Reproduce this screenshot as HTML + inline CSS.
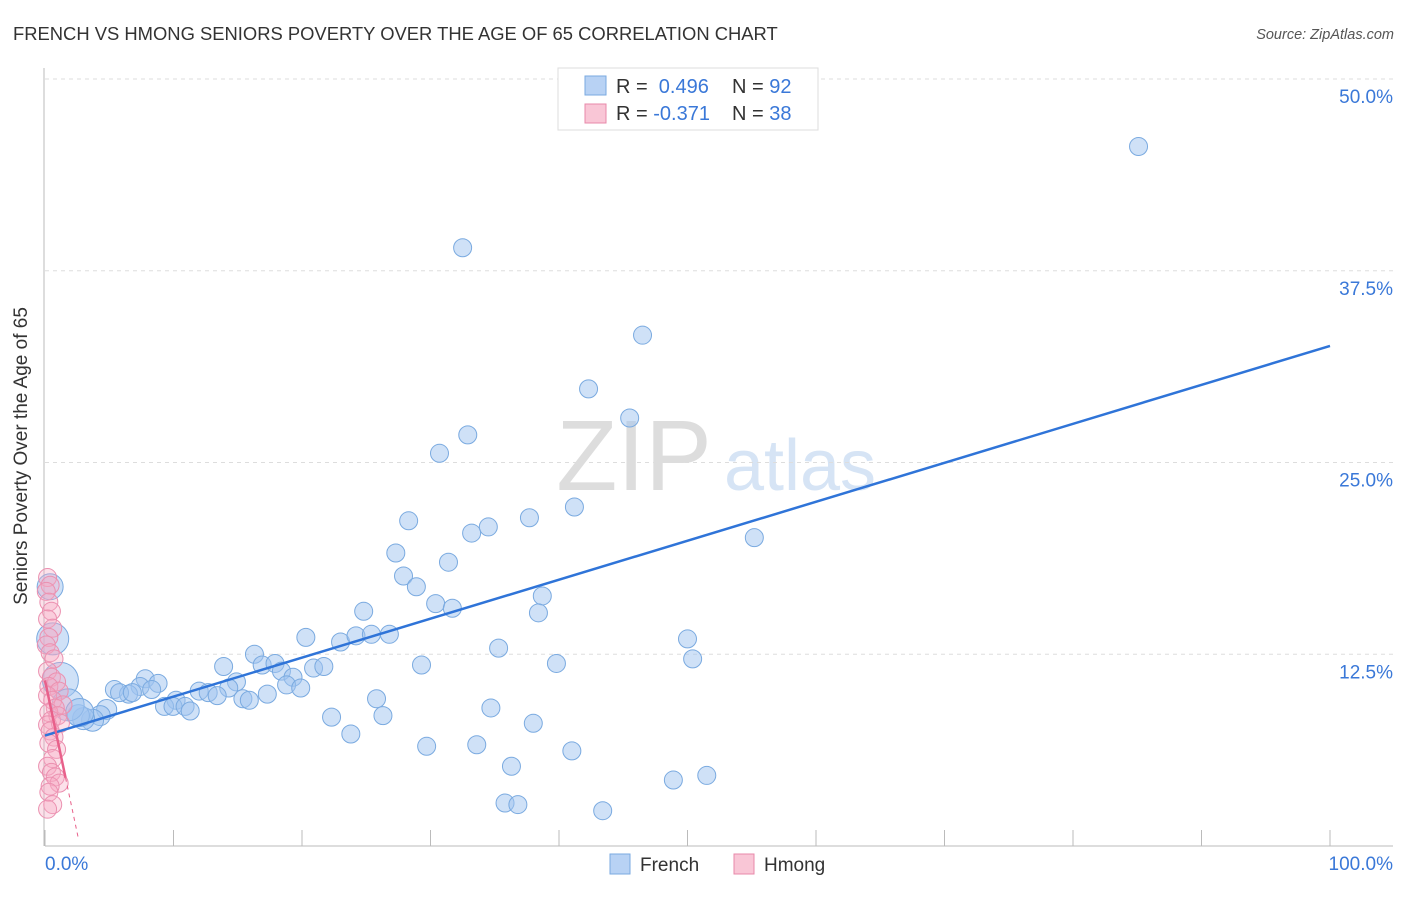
<!DOCTYPE html>
<html><head><meta charset="utf-8"><style>
body{margin:0;background:#fff;font-family:"Liberation Sans",sans-serif;}
svg text{font-family:"Liberation Sans",sans-serif;}
</style></head><body>
<svg id="chart" width="1406" height="892">
<text x="13" y="40" font-size="18.4" fill="#333">FRENCH VS HMONG SENIORS POVERTY OVER THE AGE OF 65 CORRELATION CHART</text>
<text x="1394" y="39" font-size="14.5" fill="#555" font-style="italic" text-anchor="end">Source: ZipAtlas.com</text>
<g>
<text x="634" y="490" font-size="100" fill="#ddd" text-anchor="middle" font-family="Liberation Serif,serif">ZIP</text>
<text x="800" y="490" font-size="72" fill="#d6e4f5" text-anchor="middle">atlas</text>
</g>
<g id="grid"></g><g id="axes"></g><g id="pts"></g><g id="lines"></g>
<text x="27" y="456" font-size="19" fill="#333" text-anchor="middle" transform="rotate(-90 27 456)">Seniors Poverty Over the Age of 65</text>
<text x="45" y="870" font-size="19" fill="#3a78d8">0.0%</text>
<text x="1393" y="870" font-size="19" fill="#3a78d8" text-anchor="end">100.0%</text>
<g>
<rect x="558" y="68" width="260" height="62" fill="#fff" stroke="#ddd"/>
<rect x="585" y="76" width="21" height="19" fill="#b8d2f4" stroke="#7aaae0"/>
<rect x="585" y="104" width="21" height="19" fill="#f9c6d6" stroke="#e888aa"/>
<text x="616" y="93" font-size="20" fill="#333">R = <tspan fill="#3a78d8">&#160;0.496</tspan><tspan x="732">N = </tspan><tspan fill="#3a78d8">92</tspan></text>
<text x="616" y="120" font-size="20" fill="#333">R = <tspan fill="#3a78d8">-0.371</tspan><tspan x="732">N = </tspan><tspan fill="#3a78d8">38</tspan></text>
</g>
<g>
<rect x="610" y="854" width="20" height="20" fill="#b8d2f4" stroke="#7aaae0"/>
<text x="640" y="871" font-size="19" fill="#333">French</text>
<rect x="734" y="854" width="20" height="20" fill="#f9c6d6" stroke="#e888aa"/>
<text x="764" y="871" font-size="19" fill="#333">Hmong</text>
</g>
</svg>
<script>
const yTicks=[12.5,25,37.5,50];
const yTickLabels=["12.5%","25.0%","37.5%","50.0%"];
const xTicks=[0,10,20,30,40,50,60,70,80,90,100];
const frenchX=[85.1,32.5,56.8,46.5,42.3,45.5,32.9,30.7,41.2,37.7,34.5,33.2,28.3,55.2,27.3,31.4,27.9,28.9,30.4,31.7,38.7,38.4,24.8,20.3,23.0,24.2,25.4,26.8,35.3,50.0,50.4,39.8,29.3,16.3,13.9,16.9,17.9,18.4,20.9,21.7,19.3,18.8,19.9,14.9,14.3,7.8,8.8,7.4,8.3,5.4,6.5,5.8,6.8,12.0,12.7,13.4,10.2,17.3,15.4,15.9,25.8,9.3,9.96,10.9,11.3,34.7,22.3,26.3,38.0,23.8,29.7,33.6,41.0,36.3,48.9,51.5,35.8,36.8,43.4,4.8,4.3,3.7,3.0,2.6,0.4,0.6,1.2,1.8,2.7];
const frenchY=[45.6,39.0,47.4,33.3,29.8,27.9,26.8,25.6,22.1,21.4,20.8,20.4,21.2,20.1,19.1,18.5,17.6,16.9,15.8,15.5,16.3,15.2,15.3,13.6,13.3,13.7,13.8,13.8,12.9,13.5,12.2,11.9,11.8,12.5,11.7,11.8,11.9,11.4,11.6,11.7,11.0,10.5,10.3,10.7,10.3,10.9,10.6,10.4,10.2,10.2,9.9,10.0,10.0,10.1,10.0,9.8,9.5,9.9,9.6,9.5,9.6,9.1,9.1,9.1,8.8,9.0,8.4,8.5,8.0,7.3,6.5,6.6,6.2,5.2,4.3,4.6,2.8,2.7,2.3,8.9,8.5,8.2,8.3,8.5,16.9,13.5,10.8,9.2,8.7];
const frenchR=[9,9,9,9,9,9,9,9,9,9,9,9,9,9,9,9,9,9,9,9,9,9,9,9,9,9,9,9,9,9,9,9,9,9,9,9,9,9,9,9,9,9,9,9,9,9,9,9,9,9,9,9,9,9,9,9,9,9,9,9,9,9,9,9,9,9,9,9,9,9,9,9,9,9,9,9,9,9,9,10,10,11,11,11,13,16,18,16,14];
const hmongX=[0.2,0.4,0.1,0.3,0.5,0.2,0.6,0.3,0.1,0.4,0.7,0.2,0.5,0.9,0.3,1.1,0.2,0.6,1.4,0.8,0.3,1.0,0.5,0.2,1.2,0.4,0.7,0.3,0.9,0.6,0.2,0.5,0.8,1.1,0.4,0.3,0.6,0.2];
const hmongY=[17.5,17.0,16.6,15.9,15.3,14.8,14.2,13.6,13.1,12.6,12.2,11.4,11.0,10.7,10.4,10.1,9.8,9.5,9.2,9.0,8.7,8.5,8.2,7.9,8.0,7.5,7.1,6.7,6.3,5.7,5.2,4.8,4.5,4.1,3.9,3.5,2.7,2.4];
const frenchLine=[7.2,32.6];
const hmongLine=[10.8,-3.97];
const NS="http://www.w3.org/2000/svg";
const X0=45,X1=1330,Y0=846,Y50=79;
const sx=v=>X0+(X1-X0)*v/100;
const sy=v=>Y0-(Y0-Y50)*v/50;
function mk(tag,attrs,parent){const e=document.createElementNS(NS,tag);for(const k in attrs)e.setAttribute(k,attrs[k]);parent.appendChild(e);return e;}
const grid=document.getElementById('grid'),axes=document.getElementById('axes'),pts=document.getElementById('pts'),lines=document.getElementById('lines');
yTicks.forEach((t,i)=>{
 const l=mk('line',{x1:X0,x2:1393,y1:sy(t),y2:sy(t),stroke:'#ddd','stroke-dasharray':'4,4'},grid);
 
 
 const tx=mk('text',{x:1393,y:sy(t)+24,'font-size':19,fill:'#3a78d8','text-anchor':'end'},grid);
 tx.textContent=yTickLabels[i];
 
 
});
const ax=mk('line',{x1:X0-1,x2:X0-1,y1:68,y2:Y0,stroke:'#bbb'},axes);


const bx=mk('line',{x1:X0,x2:1393,y1:Y0,y2:Y0,stroke:'#bbb'},axes);


xTicks.forEach(t=>{
 const l=mk('line',{x1:sx(t),x2:sx(t),y1:Y0-16,y2:Y0,stroke:'#bbb'},axes);
 
 
});
frenchX.forEach((x,i)=>{
 const c=mk('circle',{cx:sx(x),cy:sy(frenchY[i]),r:frenchR[i],fill:'rgba(160,196,240,0.5)',stroke:'#7aaae0','stroke-width':1},pts);
 
 
});
hmongX.forEach((x,i)=>{
 const c=mk('circle',{cx:sx(x),cy:sy(hmongY[i]),r:9,fill:'rgba(245,170,195,0.35)',stroke:'#eb90b0','stroke-width':1},pts);
 
 
});
const fl=mk('line',{x1:sx(0),y1:sy(frenchLine[0]),x2:sx(100),y2:sy(frenchLine[1]),stroke:'#2f74d8','stroke-width':2.5},lines);


const hy=x=>hmongLine[0]+hmongLine[1]*x;
const hl=mk('line',{x1:sx(0),y1:sy(hy(0)),x2:sx(1.6),y2:sy(hy(1.6)),stroke:'#e8608a','stroke-width':2.5},lines);


const hd=mk('line',{x1:sx(1.6),y1:sy(hy(1.6)),x2:sx(2.6),y2:sy(hy(2.6)),stroke:'#e8608a','stroke-width':1,'stroke-dasharray':'4,4'},lines);


</script>
</body></html>
